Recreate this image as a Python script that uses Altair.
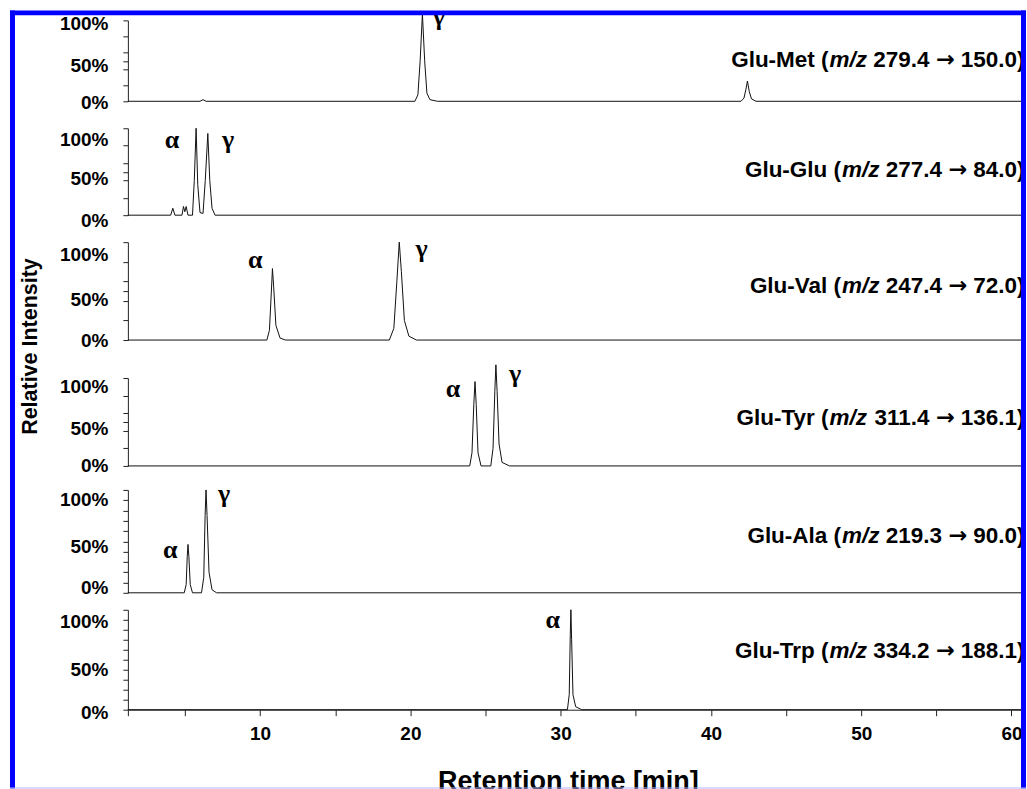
import altair as alt
import pandas as pd

# ---------------- values ----------------
compounds = ["Glu-Met", "Glu-Glu", "Glu-Val", "Glu-Tyr", "Glu-Ala", "Glu-Trp"]
precursor_mz = [279.4, 277.4, 247.4, 311.4, 219.3, 334.2]
product_mz = [150.0, 84.0, 72.0, 136.1, 90.0, 188.1]
label_level = [51, 52, 55, 55, 55, 59]          # % level of the compound label
label_time = 60.87                               # right end of the compound label (min)

met_time = [1.2, 6.0, 6.2, 6.4, 20.3, 20.5, 20.65, 20.8, 20.95, 21.1, 21.3, 21.8,
            42.0, 42.2, 42.33, 42.43, 42.55, 42.7, 43.0, 60.9]
met_int = [0, 0, 2, 0, 0, 8, 50, 108, 50, 10, 2, 0, 0, 4, 15, 25, 12, 3, 0, 0]

glu_time = [1.2, 4.05, 4.19, 4.33, 4.8, 4.9, 4.99, 5.08, 5.2, 5.5, 5.62, 5.74, 5.85,
            6.0, 6.2, 6.35, 6.52, 6.65, 6.8, 7.0, 60.9]
glu_int = [0, 0, 8, 0, 0, 10, 4, 10, 0, 0, 40, 100, 35, 3, 2, 40, 94, 40, 8, 0, 0]

val_time = [1.2, 10.45, 10.62, 10.75, 10.82, 10.9, 11.05, 11.33, 11.7, 18.6, 18.9,
            19.1, 19.26, 19.4, 19.6, 19.9, 20.4, 60.9]
val_int = [0, 0, 10, 50, 73, 55, 15, 2, 0, 0, 12, 60, 100, 70, 20, 4, 0, 0]

tyr_time = [1.2, 23.95, 24.1, 24.22, 24.3, 24.38, 24.5, 24.7, 25.35, 25.5, 25.62,
            25.69, 25.77, 25.9, 26.1, 26.6, 60.9]
tyr_int = [0, 0, 15, 70, 96, 70, 15, 0, 0, 20, 85, 115, 85, 25, 4, 0, 0]

ala_time = [1.2, 4.95, 5.08, 5.15, 5.2, 5.26, 5.35, 5.5, 6.1, 6.25, 6.34, 6.4, 6.47,
            6.6, 6.8, 7.1, 60.9]
ala_int = [0, 0, 8, 35, 47, 35, 8, 0, 0, 15, 75, 100, 75, 20, 3, 0, 0]

trp_time = [1.2, 30.45, 30.57, 30.64, 30.68, 30.73, 30.82, 31.0, 31.4, 60.9]
trp_int = [0, 0, 15, 75, 100, 70, 15, 3, 0, 0]

traces = [(met_time, met_int), (glu_time, glu_int), (val_time, val_int),
          (tyr_time, tyr_int), (ala_time, ala_int), (trp_time, trp_int)]

# isomer markers (alpha / gamma) per panel
greek_panel = [0, 1, 1, 2, 2, 3, 3, 4, 4, 5]
greek_symbol = ["γ", "α", "γ", "α", "γ", "α", "γ", "α", "γ", "α"]
greek_time = [21.9, 4.13, 7.87, 9.67, 20.74, 22.83, 26.96, 4.02, 7.6, 29.48]
greek_level = [104, 87, 87, 82, 93, 88, 105, 42, 96, 90]

x_ticks = [1.2, 5, 10, 15, 20, 25, 30, 35, 40, 45, 50, 55, 60]

# ---------------- layout / style ----------------
SANS = "Liberation Sans"
SERIF = "Liberation Serif"
ARROW_FONT = "DejaVu Sans"
X_DOMAIN = [1.2, 60.9]
PLOT_W = 898
PLOT_LEFT = 128          # page x of the plot's left edge
P6_TOP = 610             # page y of the last panel's top
panel_height = [108, 114, 136, 112, 120, 100]
axis_span = [81, 87, 98, 88, 103, 100]
# vertical nudges of the "100%", "50%", "0%" tick labels in each panel (px)
ylabel_nudge = [(3, 5, 1), (11, 7, 5), (12, 8, 0), (8, 7, 0), (10, 5, -5), (12, 10, 3)]
LBL_SIZE = 22.5
BLUE = "#0000FF"

# advance widths (per 1000 em): Liberation Sans Bold, DejaVu Sans Bold arrow
ADV = {"0": 556, "1": 556, "2": 556, "3": 556, "4": 556, "5": 556, "6": 556,
       "7": 556, "8": 556, "9": 556, ".": 278, " ": 278, "(": 333, ")": 333,
       "→": 838, "m": 889, "/": 278, "z": 500}


def text_w(s, size):
    return sum(ADV.get(c, 556) for c in s) * size / 1000.0


def one_row():
    return alt.Data(values=[{"f": 1}])


def band(x0, x1, y0, y1, color):
    """Decorative frame piece, given in page pixels."""
    return alt.Chart(one_row()).mark_rect(color=color).encode(
        x=alt.value(x0 - PLOT_LEFT), x2=alt.value(x1 - PLOT_LEFT),
        y=alt.value(y0 - P6_TOP), y2=alt.value(y1 - P6_TOP))


def make_panel(k):
    times, ints = traces[k]
    df = pd.DataFrame({"t": times, "i": ints})
    x_scale = alt.Scale(domain=X_DOMAIN, nice=False, zero=False)
    y_scale = alt.Scale(domain=[0, 100], range=[axis_span[k], 0], nice=False, zero=False)

    if k == 5:
        xaxis = alt.Axis(values=x_ticks,
                         labelExpr="datum.value % 10 == 0 ? datum.label : ''",
                         tickSize=6, tickColor="#222", domainColor="#222",
                         labelFont=SANS, labelFontSize=19, labelFontWeight="bold",
                         labelColor="#000", labelPadding=9, labelFlush=False,
                         labelOverlap=False, grid=False,
                         title="Retention time [min]", titleFont=SANS,
                         titleFontSize=27, titleFontWeight="bold", titleColor="#000",
                         titleX=440.5, titleY=80, titleAlign="center",
                         titleBaseline="alphabetic")
        xenc = alt.X("t:Q", scale=x_scale, axis=xaxis)
    else:
        xenc = alt.X("t:Q", scale=x_scale, axis=None)

    n100, n50, n0 = ylabel_nudge[k]
    yticks = [0, 20, 40, 50, 60, 80, 100] if k < 4 else list(range(0, 101, 10))
    yopts = dict(values=yticks,
                 labelExpr="datum.value == 0 ? '0%' : datum.value == 50 ? '50%' : datum.value == 100 ? '100%' : ''",
                 tickSize=5, tickColor="#222", domainColor="#222",
                 labelFont=SANS, labelFontSize=19, labelFontWeight="bold",
                 labelColor="#000", labelPadding=15,
                 labelOffset={"condition": [{"test": "datum.value == 100", "value": n100},
                                            {"test": "datum.value == 50", "value": n50}],
                              "value": n0},
                 labelOverlap=False, labelFlush=False, grid=False)
    if k == 2:
        yopts.update(title="Relative Intensity", titleFont=SANS, titleFontSize=21.5,
                     titleFontWeight="bold", titleColor="#000", titleX=-97,
                     titleY=104, titleAngle=270, titleAlign="center",
                     titleBaseline="middle")
    else:
        yopts.update(title="")
    yenc = alt.Y("i:Q", scale=y_scale, axis=alt.Axis(**yopts))

    line = alt.Chart(df).mark_line(color="#111", strokeWidth=1).encode(x=xenc, y=yenc)

    sel = [j for j in range(len(greek_panel)) if greek_panel[j] == k]
    gdf = pd.DataFrame({"t": [greek_time[j] for j in sel],
                        "i": [greek_level[j] for j in sel],
                        "s": [greek_symbol[j] for j in sel]})
    greek = alt.Chart(gdf).mark_text(font=SERIF, fontSize=26, fontWeight="bold",
                                     color="#000", align="center",
                                     baseline="middle").encode(x=xenc, y=yenc, text="s:N")

    prefix = f"{compounds[k]} ("
    mz = "m/z"
    pre = f"{precursor_mz[k]:.1f}"
    arrow = "→"
    post = f"{product_mz[k]:.1f})"
    sp = text_w(" ", LBL_SIZE)
    d_arrow = -(text_w(post, LBL_SIZE) + sp)
    d_pre = d_arrow - (text_w(arrow, LBL_SIZE) + sp)
    d_mz = d_pre - (text_w(pre, LBL_SIZE) + sp)
    d_prefix = d_mz - (text_w(mz, LBL_SIZE) + 1)

    def piece(txt, dx, style="normal", font=SANS):
        pdf = pd.DataFrame({"t": [label_time], "i": [label_level[k]], "s": [txt]})
        return alt.Chart(pdf).mark_text(font=font, fontSize=LBL_SIZE, fontWeight="bold",
                                        fontStyle=style, color="#000", align="right",
                                        baseline="middle", dx=dx).encode(
            x=xenc, y=yenc, text="s:N")

    layers = [line, greek,
              piece(post, 0),
              piece(arrow, d_arrow, font=ARROW_FONT),
              piece(pre, d_pre),
              piece(mz, d_mz, style="italic"),
              piece(prefix, d_prefix)]

    if k == 5:
        layers += [band(0, 1027, 0, 10, "white"),
                   band(0, 10, 0, 789, "white"),
                   band(10, 1027, 10, 15, BLUE),
                   band(10, 15, 10, 789, BLUE),
                   band(1022, 1027, 10, 789, BLUE),
                   band(10, 1027, 788, 789, "#B4B4FF")]

    return alt.layer(*layers).properties(width=PLOT_W, height=panel_height[k])


panels = [make_panel(k) for k in range(6)]

chart = alt.vconcat(*panels, spacing=0, bounds="flush").properties(
    padding={"left": 0, "top": 0, "right": 0, "bottom": 0},
    background="white",
).configure_view(strokeWidth=0)

chart.save("out.html", embed_options={"renderer": "svg", "actions": False})
